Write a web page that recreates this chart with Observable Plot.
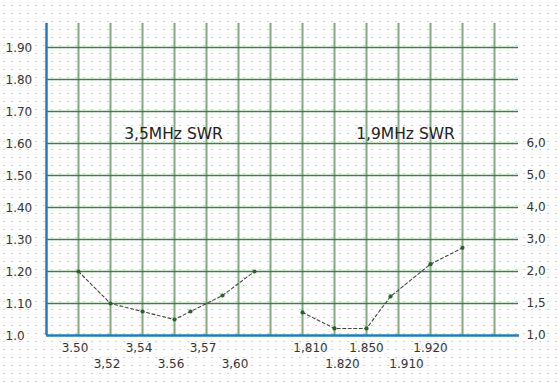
<!DOCTYPE html>
<html>
<head>
<meta charset="utf-8">
<script src="https://cdn.jsdelivr.net/npm/d3@7"></script>
<script src="https://cdn.jsdelivr.net/npm/@observablehq/plot@0.6"></script>
<style>
  html, body { margin: 0; padding: 0; }
  body {
    width: 560px; height: 385px; overflow: hidden;
    background-color: #ffffff;
    background-image: url("data:image/svg+xml,%3Csvg xmlns='http://www.w3.org/2000/svg' width='8' height='8'%3E%3Crect x='3' y='5' width='2' height='1' fill='%23cfcfcf'/%3E%3C/svg%3E");
  }
  #chart svg { display: block; }
</style>
</head>
<body>
<div id="chart"></div>
<script>
// ---- data ----
// x positions are grid slots (one slot per vertical gridline)
const band35Slots = [1, 2, 3, 4, 4.5, 5.5, 6.5];
const band35Swr = [1.20, 1.10, 1.075, 1.05, 1.075, 1.125, 1.20];

const band19Slots = [8, 9, 10, 10.75, 12, 13];
const band19Swr = [1.36, 1.11, 1.11, 1.61, 2.23, 2.74]; // read on the right-hand scale

const leftTickValues = [1.0, 1.1, 1.2, 1.3, 1.4, 1.5, 1.6, 1.7, 1.8, 1.9];
const leftTickLabels = ["1.0", "1.10", "1.20", "1.30", "1.40", "1.50", "1.60", "1.70", "1.80", "1.90"];

const rightTickValues = [1, 1.5, 2, 3, 4, 5, 6];
const rightTickLabels = ["1,0", "1,5", "2,0", "3,0", "4,0", "5,0", "6,0"];

const band35TickSlots = [1, 2, 3, 4, 5, 6];
const band35TickLabels = ["3.50", "3,52", "3,54", "3.56", "3,57", "3,60"];
const band35TickRows = [0, 1, 0, 1, 0, 1];

const band19TickSlots = [8.25, 9.25, 10, 11.25, 12];
const band19TickLabels = ["1,810", "1.820", "1.850", "1.910", "1.920"];
const band19TickRows = [0, 1, 0, 1, 0];

const titles = ["3,5MHz SWR", "1,9MHz SWR"];
const titleSlots = [3.97, 11.22];
const titleLevel = 1.63;

const gridSlots = d3.range(1, 15);      // vertical gridlines
const gridLevels = [1.1, 1.2, 1.3, 1.4, 1.5, 1.6, 1.7, 1.8, 1.9];

// right-hand (1.9 MHz) scale is drawn on the same rows as the left one
const rightToLeft = d3.scaleLinear()
  .domain(rightTickValues)
  .range(leftTickValues.slice(0, rightTickValues.length));

const data35 = band35Slots.map((s, i) => ({slot: s, swr: band35Swr[i]}));
const data19 = band19Slots.map((s, i) => ({slot: s, swr: rightToLeft(band19Swr[i])}));
const leftTicks = leftTickValues.map((v, i) => ({v, label: leftTickLabels[i]}));
const rightTicks = rightTickValues.map((v, i) => ({v: rightToLeft(v), label: rightTickLabels[i]}));
const ticks35 = band35TickSlots.map((s, i) => ({s, label: band35TickLabels[i], row: band35TickRows[i]}));
const ticks19 = band19TickSlots.map((s, i) => ({s, label: band19TickLabels[i], row: band19TickRows[i]}));
const titleData = titles.map((t, i) => ({t, s: titleSlots[i]}));

const font = "DejaVu Sans, Verdana, sans-serif";
const textColor = "#333333";
const tickSize = 12;
const yTop = 1.975;     // top of vertical gridlines
const xRightEnd = 14.75; // right end of horizontal gridlines
const rowDy = [-34, -18];

function tickRow(data, row, dx) {
  return Plot.text(data.filter(d => d.row === row), {
    x: "s", text: "label", frameAnchor: "bottom", dy: rowDy[row], dx,
    fill: textColor, fontSize: tickSize, fontFamily: font
  });
}

const chart = Plot.plot({
  width: 560,
  height: 385,
  marginLeft: 0, marginRight: 0, marginTop: 0, marginBottom: 0,
  style: {background: "transparent", fontFamily: font},
  x: {domain: [0, 14], range: [46, 494], axis: null},
  y: {domain: [1.0, 1.9], range: [335, 47], axis: null},
  marks: [
    // vertical gridlines
    Plot.ruleX(gridSlots, {x: d => d, y1: 1.0, y2: yTop, stroke: "#82a682", strokeWidth: 2}),
    // horizontal gridlines
    Plot.ruleY(gridLevels, {y: d => d, x1: 0, x2: xRightEnd, stroke: "#417f41", strokeWidth: 1.5}),
    // blue axes
    Plot.ruleX([0], {y1: 1.0, y2: yTop, stroke: "#1f7dbf", strokeWidth: 2.5}),
    Plot.ruleY([1.0], {x1: 0, x2: xRightEnd + 0.03, stroke: "#1f7dbf", strokeWidth: 2.5}),
    // series
    Plot.line(data35, {x: "slot", y: "swr", stroke: "#444444", strokeWidth: 1.1, strokeDasharray: "3,2.5"}),
    Plot.line(data19, {x: "slot", y: "swr", stroke: "#444444", strokeWidth: 1.1, strokeDasharray: "3,2.5"}),
    Plot.dot(data35, {x: "slot", y: "swr", r: 2.1, fill: "#1e6b1e", stroke: null}),
    Plot.dot(data19, {x: "slot", y: "swr", r: 2.1, fill: "#1e6b1e", stroke: null}),
    // left tick labels
    Plot.text(leftTicks, {y: "v", text: "label", frameAnchor: "left", dx: 5, dy: 1, textAnchor: "start",
      fill: textColor, fontSize: tickSize, fontFamily: font}),
    // right tick labels
    Plot.text(rightTicks, {y: "v", text: "label", frameAnchor: "right", dx: -34, dy: 0, textAnchor: "start",
      fill: textColor, fontSize: tickSize, fontFamily: font}),
    // bottom tick labels (two staggered rows)
    tickRow(ticks35, 0, -3.5),
    tickRow(ticks35, 1, -3.5),
    tickRow(ticks19, 0, 0),
    tickRow(ticks19, 1, 0),
    // band titles
    Plot.text(titleData, {x: "s", y: () => titleLevel, text: "t", fill: "#222222", fontSize: 15.5, fontFamily: font})
  ]
});
document.getElementById("chart").append(chart);
</script>
</body>
</html>
